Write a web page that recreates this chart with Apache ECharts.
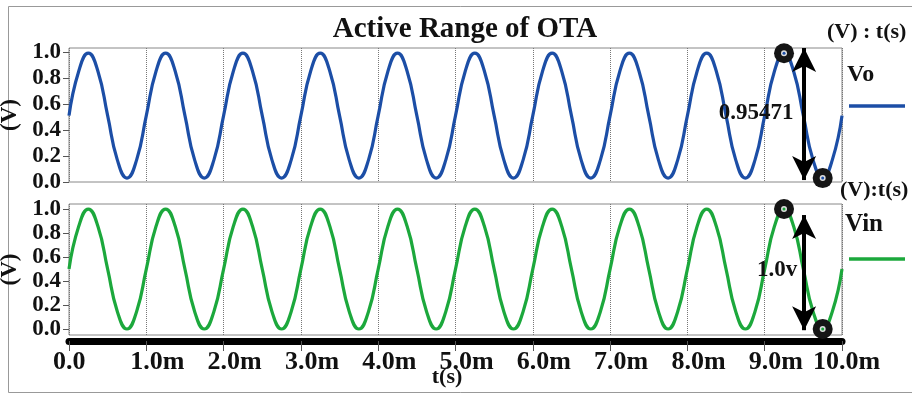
<!DOCTYPE html>
<html>
<head>
<meta charset="utf-8">
<script src="https://cdn.jsdelivr.net/npm/echarts@6/dist/echarts.min.js"></script>
<style>html,body{margin:0;padding:0;background:#fff}#c{width:912px;height:397px}</style>
</head>
<body>
<div id="c"></div>
<script>
// time in ms (1/8 period steps)
const timeMs = [
  0,0.125,0.25,0.375,0.5,0.625,0.75,0.875,
  1,1.125,1.25,1.375,1.5,1.625,1.75,1.875,
  2,2.125,2.25,2.375,2.5,2.625,2.75,2.875,
  3,3.125,3.25,3.375,3.5,3.625,3.75,3.875,
  4,4.125,4.25,4.375,4.5,4.625,4.75,4.875,
  5,5.125,5.25,5.375,5.5,5.625,5.75,5.875,
  6,6.125,6.25,6.375,6.5,6.625,6.75,6.875,
  7,7.125,7.25,7.375,7.5,7.625,7.75,7.875,
  8,8.125,8.25,8.375,8.5,8.625,8.75,8.875,
  9,9.125,9.25,9.375,9.5,9.625,9.75,9.875,
  10
];
const vo = [
  0.51,0.85,0.99,0.85,0.51,0.17,0.03,0.17,
  0.51,0.85,0.99,0.85,0.51,0.17,0.03,0.17,
  0.51,0.85,0.99,0.85,0.51,0.17,0.03,0.17,
  0.51,0.85,0.99,0.85,0.51,0.17,0.03,0.17,
  0.51,0.85,0.99,0.85,0.51,0.17,0.03,0.17,
  0.51,0.85,0.99,0.85,0.51,0.17,0.03,0.17,
  0.51,0.85,0.99,0.85,0.51,0.17,0.03,0.17,
  0.51,0.85,0.99,0.85,0.51,0.17,0.03,0.17,
  0.51,0.85,0.99,0.85,0.51,0.17,0.03,0.17,
  0.51,0.85,0.99,0.85,0.51,0.17,0.03,0.17,
  0.51
];
const vin = [
  0.5,0.854,1.0,0.854,0.5,0.146,0.0,0.146,
  0.5,0.854,1.0,0.854,0.5,0.146,0.0,0.146,
  0.5,0.854,1.0,0.854,0.5,0.146,0.0,0.146,
  0.5,0.854,1.0,0.854,0.5,0.146,0.0,0.146,
  0.5,0.854,1.0,0.854,0.5,0.146,0.0,0.146,
  0.5,0.854,1.0,0.854,0.5,0.146,0.0,0.146,
  0.5,0.854,1.0,0.854,0.5,0.146,0.0,0.146,
  0.5,0.854,1.0,0.854,0.5,0.146,0.0,0.146,
  0.5,0.854,1.0,0.854,0.5,0.146,0.0,0.146,
  0.5,0.854,1.0,0.854,0.5,0.146,0.0,0.146,
  0.5
];
const yTicks = [0, 0.2, 0.4, 0.6, 0.8, 1.0];
const voMarkers = [[9.25, 0.99], [9.75, 0.03]];
const vinMarkers = [[9.25, 1.0], [9.75, 0.0]];
const voArrow = [[9.51, 1.03], [9.51, 0.015]];
const vinArrow = [[9.51, 0.95], [9.51, -0.01]];

const FONT = '"Liberation Serif","Times New Roman",serif';
const BLUE = '#1c4ea6';
const GREEN = '#1ca83c';

function yAxisCfg(gridIndex, min, max) {
  return {
    type: 'value', gridIndex, min, max,
    name: '(V)', nameLocation: 'middle', nameRotate: 90, nameGap: 41,
    nameTextStyle: {fontFamily: FONT, fontWeight: 'bold', fontSize: 23, color: '#111'},
    axisLine: {show: false},
    axisTick: {show: true, length: 6, customValues: yTicks, lineStyle: {color: '#555'}},
    axisLabel: {show: true, customValues: yTicks, margin: 8, fontFamily: FONT, fontWeight: 'bold', fontSize: 23, color: '#111',
      formatter: v => v.toFixed(1)},
    splitLine: {show: false}
  };
}

function markers(pts, color) {
  const d = [];
  pts.forEach(p => {
    d.push({coord: p, symbol: 'circle', symbolSize: 20, itemStyle: {color: '#151515'}});
    d.push({coord: p, symbol: 'circle', symbolSize: 6, itemStyle: {color: '#dddddd'}});
    d.push({coord: p, symbol: 'circle', symbolSize: 3, itemStyle: {color: color}});
  });
  return {silent: true, label: {show: false}, data: d};
}

function arrow(pts) {
  return {
    silent: true, symbol: ['arrow', 'arrow'],
    label: {show: false},
    lineStyle: {color: '#000', width: 4, type: 'solid'},
    data: [[
      {coord: pts[0], symbol: 'arrow', symbolSize: [18, 24]},
      {coord: pts[1], symbol: 'arrow', symbolSize: [18, 24]}
    ]]
  };
}

const chart = echarts.init(document.getElementById('c'), null, {renderer: 'canvas'});
chart.setOption({
  animation: false,
  backgroundColor: '#fff',
  grid: [
    {left: 69, top: 48, width: 773, height: 134, show: true, borderColor: '#888', borderWidth: 1, containLabel: false, outerBoundsMode: 'none'},
    {left: 69, top: 204, width: 773, height: 131, show: true, borderColor: '#888', borderWidth: 1, containLabel: false, outerBoundsMode: 'none'}
  ],
  xAxis: [
    {type: 'value', gridIndex: 0, min: 0, max: 10, interval: 1, position: 'bottom',
      axisLine: {show: false, onZero: false}, axisTick: {show: false}, axisLabel: {show: false},
      splitLine: {show: true, lineStyle: {color: '#777', type: 'dotted', width: 1}}},
    {type: 'value', gridIndex: 1, min: 0, max: 10, interval: 1, offset: 6, position: 'bottom',
      axisLine: {show: true, onZero: false, lineStyle: {color: '#000', width: 7}},
      axisTick: {show: true, length: 10, lineStyle: {color: '#555', width: 1}},
      axisLabel: {show: true, margin: 8, fontFamily: FONT, fontWeight: 'bold', fontSize: 26, color: '#111',
        align: 'right', padding: [0, 3, 0, 0], formatter: v => String(Math.round(v)),
        showMinLabel: true, showMaxLabel: true},
      splitLine: {show: true, lineStyle: {color: '#777', type: 'dotted', width: 1}}},
    {type: 'value', gridIndex: 1, min: 0, max: 10, interval: 1, offset: 6, position: 'bottom',
      axisLine: {show: false, onZero: false}, axisTick: {show: false}, splitLine: {show: false},
      axisLabel: {show: true, margin: 8, fontFamily: FONT, fontWeight: 'bold', fontSize: 26, color: '#111',
        align: 'left', padding: [0, 0, 0, -3], formatter: v => (Math.round(v) === 0 ? '.0' : '.0m'),
        showMinLabel: true, showMaxLabel: true}}
  ],
  yAxis: [yAxisCfg(0, 0, 1.03), yAxisCfg(1, -0.05, 1.042)],
  series: [
    {type: 'line', name: 'Vo', xAxisIndex: 0, yAxisIndex: 0, showSymbol: false, smooth: 0.5, clip: false,
      lineStyle: {color: BLUE, width: 3.2}, itemStyle: {color: BLUE},
      data: timeMs.map((t, i) => [t, vo[i]]),
      markPoint: markers(voMarkers, BLUE), markLine: arrow(voArrow)},
    {type: 'line', name: 'Vin', xAxisIndex: 1, yAxisIndex: 1, showSymbol: false, smooth: 0.5, clip: false,
      lineStyle: {color: GREEN, width: 3.2}, itemStyle: {color: GREEN},
      data: timeMs.map((t, i) => [t, vin[i]]),
      markPoint: markers(vinMarkers, GREEN), markLine: arrow(vinArrow)}
  ],
  graphic: [
    {type: 'rect', shape: {x: 8.5, y: 6.5, width: 910, height: 386}, style: {fill: 'none', stroke: '#999', lineWidth: 1}, silent: true, z: -10},
    {type: 'text', x: 465, y: 30, style: {text: 'Active Range of OTA', font: 'bold 29px ' + FONT, fill: '#111', align: 'center', verticalAlign: 'middle'}},
    {type: 'text', x: 827, y: 32, style: {text: '(V) : t(s)', font: 'bold 22px ' + FONT, fill: '#111', align: 'left', verticalAlign: 'middle'}},
    {type: 'text', x: 847, y: 75, style: {text: 'Vo', font: 'bold 24px ' + FONT, fill: '#111', align: 'left', verticalAlign: 'middle'}},
    {type: 'line', shape: {x1: 849, y1: 106, x2: 905, y2: 106}, style: {stroke: BLUE, lineWidth: 3.5}},
    {type: 'text', x: 840, y: 190, style: {text: '(V):t(s)', font: 'bold 22px ' + FONT, fill: '#111', align: 'left', verticalAlign: 'middle'}},
    {type: 'text', x: 845, y: 225, style: {text: 'Vin', font: 'bold 25px ' + FONT, fill: '#111', align: 'left', verticalAlign: 'middle'}},
    {type: 'line', shape: {x1: 849, y1: 259, x2: 905, y2: 259}, style: {stroke: GREEN, lineWidth: 3.5}},
    {type: 'text', x: 756, y: 113, style: {text: '0.95471', font: 'bold 23px ' + FONT, fill: '#111', align: 'center', verticalAlign: 'middle'}, z: 100},
    {type: 'text', x: 777, y: 270, style: {text: '1.0v', font: 'bold 23px ' + FONT, fill: '#111', align: 'center', verticalAlign: 'middle'}, z: 100},
    {type: 'text', x: 447, y: 377, style: {text: 't(s)', font: 'bold 22px ' + FONT, fill: '#111', align: 'center', verticalAlign: 'middle'}}
  ]
});
</script>
</body>
</html>
